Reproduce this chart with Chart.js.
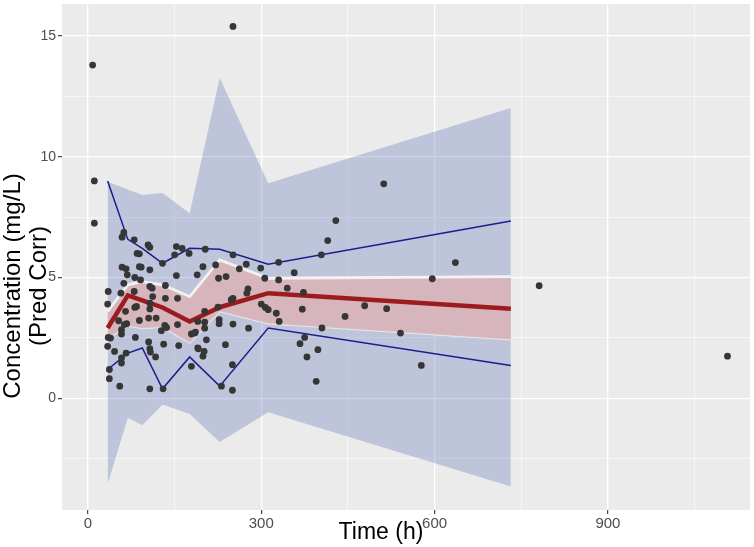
<!DOCTYPE html>
<html>
<head>
<meta charset="utf-8">
<script src="https://cdn.jsdelivr.net/npm/chart.js@4.4.1/dist/chart.umd.min.js"></script>
<style>
    html, body { margin: 0; padding: 0; background: #ffffff; }
    #wrap { width: 754px; height: 547px; }
</style>
</head>
<body>
<div id="wrap"><canvas id="vpcCanvas"></canvas></div>
<script>
// bins of the VPC (time, h)
const binTime = [34, 69, 94, 129, 176, 228, 312, 732];
// simulated prediction interval (outer shaded area)
const piHigh = [8.97, 8.65, 8.42, 8.5, 7.66, 13.26, 8.9, 12.02];
const piLow = [-3.55, -0.81, -1.12, -0.26, -0.65, -1.81, -0.58, -3.66];
// confidence interval of the simulated median
const medHigh = [3.6, 4.7, 4.83, 4.7, 4.21, 5.73, 4.97, 5.04];
const medLow = [2.49, 3.0, 2.9, 2.95, 2.3, 3.6, 3.1, 2.43];
// observed percentiles
const obsHigh = [9.0, 6.58, 6.21, 5.59, 6.21, 6.17, 5.55, 7.34];
const obsMed = [2.91, 4.26, 4.05, 3.76, 3.18, 3.77, 4.35, 3.71];
const obsLow = [1.19, 1.87, 2.08, 0.39, 1.71, 0.50, 2.91, 1.36];

// observations (prediction corrected)
const obsTime = [8, 11, 11, 251, 512, 1107, 781, 636, 596, 577, 429, 415, 404, 357, 373, 371, 479, 517, 445, 405,
    541, 375, 367, 398, 379, 395,
    203, 251, 330, 199, 189, 221, 274, 262, 299, 226, 239, 306, 330, 345, 277, 275, 251, 248,
    300, 307, 312, 326, 331, 202, 225, 190, 202, 227, 227, 251, 278, 202, 185, 205, 191, 238, 199, 250, 231, 250,
    35, 57, 80, 112, 134, 155, 34, 81, 84, 107, 107, 65, 53, 89, 105, 118, 67, 63, 133, 136, 155, 58, 58, 35, 39,
    82, 127, 179, 186, 105, 131, 157, 34, 46, 66, 107, 108, 117, 58, 58, 190, 201, 179, 37, 55, 107, 130, 37,
    62, 59, 80, 104, 107, 85, 89, 129, 153, 163, 150, 175, 59, 66, 89, 92, 107, 68, 81, 91, 153, 62, 107, 111, 134];
const obsConc = [13.8, 9.0, 7.25, 15.4, 8.88, 1.74, 4.66, 5.62, 4.95, 1.36, 7.36, 6.53, 5.94, 5.2, 4.38, 3.69, 3.83, 3.71, 3.39, 2.91,
    2.70, 2.52, 2.26, 2.01, 1.71, 0.70,
    6.17, 5.94, 5.63, 5.45, 5.11, 5.52, 5.55, 5.36, 5.39, 4.97, 5.04, 4.97, 4.90, 4.56, 4.53, 4.35, 4.14, 4.08,
    3.90, 3.76, 3.67, 3.52, 3.18, 3.60, 3.77, 3.18, 3.15, 3.25, 3.09, 3.07, 2.90, 2.90, 2.70, 2.42, 2.05, 2.22, 1.74, 1.39, 0.50, 0.33,
    4.42, 4.35, 4.42, 4.21, 4.14, 4.14, 3.90, 3.76, 3.80, 3.94, 3.70, 3.60, 3.21, 3.22, 3.32, 3.32, 3.09, 3.05, 3.02, 2.93, 3.05, 2.84, 2.66, 2.52, 2.49,
    2.52, 2.80, 2.66, 2.74, 2.33, 2.24, 2.18, 2.15, 1.94, 1.87, 2.05, 1.91, 1.71, 1.67, 1.46, 2.08, 1.94, 1.32, 0.81, 0.50, 0.39, 0.39, 1.19,
    6.87, 6.67, 6.56, 6.35, 6.25, 6.00, 5.98, 5.59, 6.28, 6.21, 5.94, 6.00, 5.43, 5.36, 5.45, 5.43, 5.32, 5.11, 5.00, 4.90, 5.08, 4.76, 4.63, 4.56, 4.67];

// axis ticks
const xMajor = [0, 300, 600, 900];
const xMinor = [150, 450, 750, 1050];
const yMajor = [0, 5, 10, 15];
const yMinor = [-2.5, 2.5, 7.5, 12.5];

const FONT = "'Liberation Sans', Arial, sans-serif";

function xy(ys) {
    return binTime.map((t, i) => ({ x: t, y: ys[i] }));
}

function setTicks(major, minor) {
    return (scale) => {
        scale.ticks = major.concat(minor).sort((a, b) => a - b).map(v => ({ value: v }));
    };
}

function axis(major, minor, fontSize) {
    return {
        type: "linear",
        afterBuildTicks: setTicks(major, minor),
        border: { display: false },
        grid: {
            color: "#ffffff",
            lineWidth: (ctx) => major.includes(ctx.tick.value) ? 1.3 : 0.6,
            tickLength: 4,
            tickWidth: 1.1,
            tickColor: (ctx) => major.includes(ctx.tick.value) ? "#333333" : "rgba(0,0,0,0)"
        },
        ticks: {
            autoSkip: false,
            maxRotation: 0,
            color: "#4d4d4d",
            font: { family: FONT, size: fontSize },
            callback: (v) => major.includes(v) ? String(v) : ""
        }
    };
}

// no extra room for half labels: the panel fills the frame
function noPad(scale) {
    scale.paddingTop = 0;
    scale.paddingBottom = 0;
    scale.paddingLeft = 0;
    scale.paddingRight = 0;
}

const xAxis = axis(xMajor, xMinor, 15);
xAxis.min = -45;
xAxis.max = 1146;
xAxis.ticks.padding = 1;
xAxis.afterFit = (scale) => { scale.height = 37; noPad(scale); };

const yAxis = axis(yMajor, yMinor, 14);
yAxis.min = -4.63;
yAxis.max = 16.33;
yAxis.ticks.padding = 2;
yAxis.afterFit = (scale) => { scale.width = 62; noPad(scale); };

// grey panel behind the grid
const panelPlugin = {
    id: "panel",
    beforeDraw(chart) {
        const a = chart.chartArea;
        const ctx = chart.ctx;
        ctx.save();
        ctx.fillStyle = "#ebebeb";
        ctx.fillRect(a.left, a.top, a.right - a.left, a.bottom - a.top);
        ctx.restore();
    }
};

// axis titles placed as in the original figure
const titlePlugin = {
    id: "axisTitles",
    afterDraw(chart) {
        const ctx = chart.ctx;
        ctx.save();
        ctx.fillStyle = "#000000";
        ctx.font = "23px " + FONT;
        ctx.textAlign = "center";
        ctx.textBaseline = "alphabetic";
        ctx.fillText("Time (h)", 381, 538.5);
        ctx.translate(0, 286);
        ctx.rotate(-Math.PI / 2);
        ctx.font = "24px " + FONT;
        ctx.fillText("Concentration (mg/L)", 0, 19.5);
        ctx.fillText("(Pred Corr)", 0, 46);
        ctx.restore();
    }
};

const lineBase = { type: "line", pointRadius: 0, tension: 0 };

new Chart(document.getElementById("vpcCanvas"), {
    type: "scatter",
    data: {
        datasets: [
            {
                label: "Observed",
                data: obsTime.map((t, i) => ({ x: t, y: obsConc[i] })),
                pointRadius: 3.4,
                pointBorderWidth: 0,
                backgroundColor: "#363636",
                borderColor: "#363636"
            },
            Object.assign({}, lineBase, {
                label: "Observed median",
                data: xy(obsMed),
                borderColor: "#9b1b1e",
                borderWidth: 4.5,
                fill: false
            }),
            Object.assign({}, lineBase, {
                label: "Observed 95th",
                data: xy(obsHigh),
                borderColor: "#1c1c8e",
                borderWidth: 1.5,
                fill: false
            }),
            Object.assign({}, lineBase, {
                label: "Observed 5th",
                data: xy(obsLow),
                borderColor: "#1c1c8e",
                borderWidth: 1.5,
                fill: false
            }),
            Object.assign({}, lineBase, {
                label: "Median CI high",
                data: xy(medHigh),
                borderColor: "rgba(247,247,247,0.9)",
                borderWidth: 2.8,
                backgroundColor: "rgba(218,180,183,0.88)",
                fill: "+1"
            }),
            Object.assign({}, lineBase, {
                label: "Median CI low",
                data: xy(medLow),
                borderColor: "rgba(247,247,247,0.7)",
                borderWidth: 2,
                fill: false
            }),
            Object.assign({}, lineBase, {
                label: "PI high",
                data: xy(piHigh),
                borderWidth: 0,
                borderColor: "rgba(0,0,0,0)",
                backgroundColor: "rgba(85,108,178,0.3)",
                fill: "+1"
            }),
            Object.assign({}, lineBase, {
                label: "PI low",
                data: xy(piLow),
                borderWidth: 0,
                borderColor: "rgba(0,0,0,0)",
                fill: false
            })
        ]
    },
    options: {
        responsive: true,
        maintainAspectRatio: false,
        animation: false,
        layout: { padding: { top: 0, right: 3, left: 0, bottom: 0 } },
        plugins: {
            legend: { display: false },
            tooltip: { enabled: false }
        },
        scales: {
            x: xAxis,
            y: yAxis
        }
    },
    plugins: [panelPlugin, titlePlugin]
});
</script>
</body>
</html>
